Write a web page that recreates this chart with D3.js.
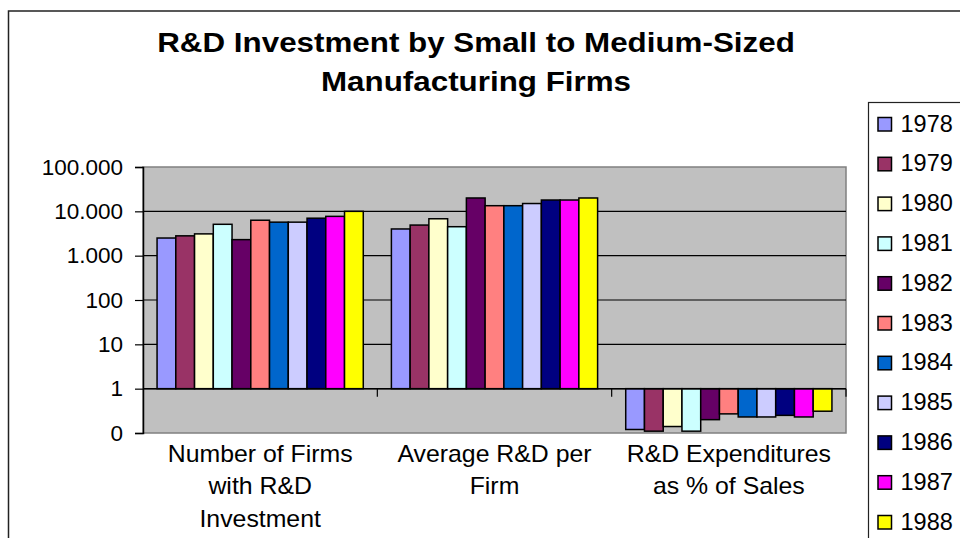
<!DOCTYPE html>
<html>
<head>
<meta charset="utf-8">
<script src="https://cdn.jsdelivr.net/npm/d3@7"></script>
<style>
  html, body { margin: 0; padding: 0; background: #fff; }
  svg { display: block; font-family: Arial, "Liberation Sans", sans-serif; }
</style>
</head>
<body>
<svg id="chart" width="960" height="538"></svg>
<script>
// ---- data ----
const categories = [
  ["Number of Firms", "with R&D", "Investment"],
  ["Average R&D per", "Firm"],
  ["R&D Expenditures", "as % of Sales"]
];
const years = ["1978","1979","1980","1981","1982","1983","1984","1985","1986","1987","1988"];
const firmsWithRD = [2500, 2800, 3100, 5100, 2300, 6300, 5700, 5700, 7000, 7700, 10000];
const avgRDPerFirm = [4000, 4900, 6800, 4500, 20000, 13400, 13400, 15000, 18000, 18000, 20000];
const rdPctOfSales = [0.12, 0.11, 0.14, 0.11, 0.2, 0.27, 0.23, 0.23, 0.25, 0.23, 0.31];
const colors = ["#9999FF","#993366","#FFFFCC","#CCFFFF","#660066","#FF8080","#0066CC","#CCCCFF","#000080","#FF00FF","#FFFF00"];
const tickValues = [0.1, 1, 10, 100, 1000, 10000, 100000];
const tickLabels = ["0", "1", "10", "100", "1.000", "10.000", "100.000"];
const titleLines = ["R&D Investment by Small to Medium-Sized", "Manufacturing Firms"];

const seriesByCat = [firmsWithRD, avgRDPerFirm, rdPctOfSales];

// ---- layout ----
const svg = d3.select("#chart");
const plot = { left: 143, right: 846, top: 167, bottom: 433 };

// outer chart border
svg.append("rect")
  .attr("x", 8.5).attr("y", 11).attr("width", 1000).attr("height", 600)
  .attr("fill", "#fff").attr("stroke", "#222").attr("stroke-width", 1.5);

const catIdx = categories.map((d, i) => i);
const x0 = d3.scaleBand().domain(catIdx).range([plot.left, plot.right]).padding(0);
const bw = x0.bandwidth();
const barW = bw / (years.length + 1.5);
const x1 = d3.scaleBand().domain(years).range([barW * 0.75, bw - barW * 0.75]).padding(0);
const y = d3.scaleLog().domain([0.1, 100000]).range([plot.bottom, plot.top]);

// plot area
svg.append("rect")
  .attr("x", plot.left).attr("y", plot.top)
  .attr("width", plot.right - plot.left).attr("height", plot.bottom - plot.top)
  .attr("fill", "#C0C0C0").attr("stroke", "#808080").attr("stroke-width", 1.5);

// gridlines
svg.append("g").selectAll("line")
  .data(tickValues.filter(v => v > 0.1 && v < 100000))
  .join("line")
  .attr("x1", plot.left).attr("x2", plot.right)
  .attr("y1", d => y(d)).attr("y2", d => y(d))
  .attr("stroke", "#000").attr("stroke-width", 1.2);

// bars
const groups = svg.append("g").selectAll("g")
  .data(catIdx)
  .join("g")
  .attr("transform", c => `translate(${x0(c)},0)`);

groups.selectAll("rect")
  .data(c => years.map((yr, i) => ({ yr, i, v: seriesByCat[c][i] })))
  .join("rect")
  .attr("x", d => x1(d.yr))
  .attr("width", x1.bandwidth())
  .attr("y", d => Math.min(y(d.v), y(1)))
  .attr("height", d => Math.abs(y(d.v) - y(1)))
  .attr("fill", d => colors[d.i])
  .attr("stroke", "#000").attr("stroke-width", 1.5);

// y axis
const yAxis = d3.axisLeft(y)
  .tickValues(tickValues)
  .tickFormat((d, i) => tickLabels[i])
  .tickSize(8).tickPadding(12);
const gy = svg.append("g").attr("transform", `translate(${plot.left},0)`).call(yAxis);
gy.select(".domain").attr("stroke", "#000").attr("stroke-width", 1.5);
gy.selectAll(".tick line").attr("stroke", "#000").attr("stroke-width", 1.2);
gy.selectAll(".tick text").attr("font-size", 22.5).attr("fill", "#000")
  .attr("font-family", "Arial, 'Liberation Sans', sans-serif");

// category axis at value 1
const gx = svg.append("g");
gx.append("line")
  .attr("x1", plot.left).attr("x2", plot.right)
  .attr("y1", y(1)).attr("y2", y(1))
  .attr("stroke", "#000").attr("stroke-width", 1.5);
gx.selectAll("line.tk")
  .data(catIdx.slice(1).concat([catIdx.length]))
  .join("line").attr("class", "tk")
  .attr("x1", c => plot.left + c * bw).attr("x2", c => plot.left + c * bw)
  .attr("y1", y(1)).attr("y2", y(1) + 8)
  .attr("stroke", "#000").attr("stroke-width", 1.2);

// category labels
const labG = svg.append("g").selectAll("text")
  .data(catIdx)
  .join("text")
  .attr("text-anchor", "middle")
  .attr("font-size", 23).attr("fill", "#000")
  .attr("transform", c => `translate(${x0(c) + bw / 2},461.5) scale(1.08,1)`);
labG.selectAll("tspan")
  .data(c => categories[c])
  .join("tspan")
  .attr("x", 0)
  .attr("y", (d, i) => i * 32.6)
  .text(d => d);

// title
svg.append("text")
  .attr("text-anchor", "middle")
  .attr("font-size", 28).attr("font-weight", "bold").attr("fill", "#000")
  .attr("transform", "translate(476,51.5) scale(1.12,1)")
  .selectAll("tspan")
  .data(titleLines)
  .join("tspan")
  .attr("x", 0).attr("y", (d, i) => i * 40)
  .text(d => d);

// legend
const leg = svg.append("g").attr("transform", "translate(868.5,102.5)");
leg.append("rect")
  .attr("x", 0).attr("y", 0).attr("width", 200).attr("height", 500)
  .attr("fill", "#fff").attr("stroke", "#222").attr("stroke-width", 1.2);
const li = leg.selectAll("g.li")
  .data(years)
  .join("g").attr("class", "li")
  .attr("transform", (d, i) => `translate(0,${15 + i * 39.8})`);
li.append("rect")
  .attr("x", 9.5).attr("y", 0).attr("width", 13.5).attr("height", 13.5)
  .attr("fill", (d, i) => colors[i])
  .attr("stroke", "#000").attr("stroke-width", 1.5);
li.append("text")
  .attr("x", 32).attr("y", 14)
  .attr("font-size", 23.5).attr("fill", "#000")
  .text(d => d);
</script>
</body>
</html>
